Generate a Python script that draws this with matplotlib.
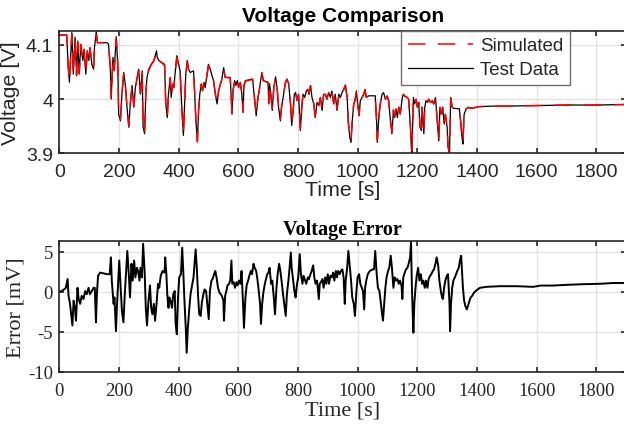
import numpy as np
import matplotlib
matplotlib.use("Agg")
import matplotlib.pyplot as plt

# ---- data ----
# time [s] for the voltage trace
t_v = [0, 25, 30, 34, 42, 47, 53, 58, 62, 67, 72, 79, 83, 89, 94, 99, 103, 109, 115, 118,
       124, 128, 160, 165, 171, 174, 180, 184, 191, 196, 199, 205, 210, 216, 221, 227, 233, 238, 244, 250,
       255, 261, 266, 272, 278, 281, 286, 290, 294, 300, 308, 317, 326, 328, 334, 345, 353, 357, 362, 366,
       372, 375, 380, 384, 389, 394, 400, 405, 411, 416, 420, 424, 429, 433, 439, 450, 454, 458, 463, 467,
       471, 476, 480, 485, 489, 494, 500, 506, 512, 517, 523, 529, 534, 540, 545, 551, 556, 573, 579, 582,
       588, 592, 597, 601, 607, 612, 616, 619, 624, 648, 655, 660, 666, 670, 675, 679, 684, 700, 702, 705,
       710, 714, 719, 725, 730, 735, 741, 745, 752, 758, 763, 769, 775, 779, 784, 788, 792, 797, 802, 808,
       813, 817, 823, 828, 833, 837, 842, 847, 853, 858, 864, 870, 875, 881, 886, 892, 897, 903, 909, 914,
       920, 925, 931, 937, 942, 948, 953, 959, 965, 969, 974, 978, 982, 987, 991, 996, 1000, 1005, 1009, 1015,
       1020, 1025, 1029, 1037, 1059, 1064, 1066, 1071, 1076, 1082, 1087, 1093, 1099, 1104, 1110, 1115, 1120, 1124, 1129, 1133,
       1138, 1143, 1149, 1153, 1158, 1166, 1171, 1177, 1180, 1182, 1187, 1191, 1196, 1200, 1205, 1209, 1214, 1216, 1222, 1225,
       1229, 1234, 1238, 1244, 1250, 1255, 1261, 1266, 1272, 1276, 1281, 1285, 1290, 1294, 1300, 1303, 1308, 1312, 1317, 1322,
       1341, 1346, 1350, 1353, 1357, 1364, 1370, 1384, 1406, 1450, 1500, 1600, 1700, 1800, 1900]

# measured cell voltage [V]
v_test = [4.118, 4.118, 4.058, 4.031, 4.123, 4.046, 4.114, 4.043, 4.107, 4.046, 4.101, 4.071, 4.092, 4.046, 4.089, 4.071, 4.095, 4.064, 4.055, 4.095,
          4.125, 4.104, 4.104, 4.101, 4.058, 4.000, 4.077, 4.052, 4.115, 4.064, 3.972, 3.960, 4.009, 4.049, 4.028, 3.985, 3.948, 3.991, 4.025, 3.985,
          4.021, 4.040, 4.055, 4.009, 4.052, 3.948, 3.936, 4.009, 4.040, 4.055, 4.064, 4.071, 4.089, 4.077, 4.071, 4.067, 4.064, 3.991, 3.966, 4.009,
          4.040, 4.003, 4.028, 4.021, 4.052, 4.080, 4.064, 4.052, 3.979, 3.933, 3.991, 4.046, 4.071, 4.055, 4.049, 4.052, 4.009, 3.960, 3.923, 3.979,
          4.009, 4.028, 4.015, 4.031, 4.021, 4.040, 4.064, 4.055, 4.043, 4.034, 4.009, 3.991, 4.015, 4.028, 4.037, 4.058, 4.040, 4.040, 3.972, 4.015,
          4.034, 4.025, 4.034, 4.021, 4.031, 4.009, 3.975, 4.025, 4.034, 4.037, 3.997, 3.969, 4.003, 4.015, 4.034, 4.049, 4.034, 4.031, 3.991, 4.028,
          4.003, 3.979, 4.021, 4.041, 4.021, 3.985, 3.960, 3.985, 4.009, 4.031, 4.037, 4.028, 3.991, 3.951, 3.979, 4.009, 4.012, 3.997, 4.009, 3.942,
          3.985, 4.009, 4.003, 4.015, 4.018, 4.009, 4.025, 4.003, 3.991, 3.966, 3.994, 3.988, 4.003, 3.979, 4.009, 4.009, 4.000, 4.012, 4.003, 4.015,
          3.991, 4.009, 3.979, 4.009, 4.003, 4.012, 4.018, 4.026, 4.003, 3.954, 3.929, 3.920, 3.960, 3.991, 3.997, 4.015, 3.991, 3.969, 3.997, 4.003,
          4.009, 4.018, 4.003, 4.006, 4.006, 3.954, 3.920, 3.966, 3.991, 4.009, 4.012, 4.000, 4.006, 3.997, 3.960, 3.936, 3.979, 3.966, 3.982, 3.966,
          3.985, 3.972, 4.000, 4.009, 4.006, 4.003, 4.000, 3.948, 3.911, 3.899, 4.003, 3.991, 4.000, 3.985, 3.994, 3.948, 3.942, 3.985, 3.936, 3.985,
          3.997, 3.994, 4.000, 3.994, 3.997, 3.991, 4.003, 3.966, 3.923, 3.985, 3.972, 3.985, 3.954, 3.972, 3.948, 3.911, 3.899, 4.003, 3.985, 3.983,
          3.982, 3.954, 3.929, 3.917, 3.972, 3.982, 3.985, 3.983, 3.986, 3.987, 3.987, 3.988, 3.989, 3.989, 3.990]

# model output [V]
v_sim = [4.118, 4.118, 4.060, 4.033, 4.120, 4.047, 4.112, 4.045, 4.105, 4.048, 4.100, 4.072, 4.091, 4.048, 4.088, 4.072, 4.094, 4.065, 4.057, 4.094,
         4.119, 4.104, 4.104, 4.100, 4.060, 4.004, 4.076, 4.054, 4.112, 4.065, 3.974, 3.963, 4.009, 4.047, 4.029, 3.987, 3.951, 3.991, 4.023, 3.987,
         4.020, 4.039, 4.053, 4.011, 4.050, 3.951, 3.940, 4.009, 4.039, 4.053, 4.063, 4.070, 4.086, 4.077, 4.071, 4.066, 4.062, 3.993, 3.969, 4.009,
         4.039, 4.005, 4.027, 4.022, 4.050, 4.077, 4.063, 4.051, 3.982, 3.938, 3.992, 4.044, 4.069, 4.055, 4.049, 4.051, 4.010, 3.961, 3.921, 3.981,
         4.010, 4.027, 4.016, 4.030, 4.022, 4.039, 4.062, 4.054, 4.043, 4.035, 4.010, 3.993, 4.015, 4.027, 4.036, 4.056, 4.040, 4.039, 3.975, 4.014,
         4.033, 4.025, 4.033, 4.022, 4.030, 4.010, 3.978, 4.024, 4.033, 4.036, 3.998, 3.972, 4.003, 4.015, 4.033, 4.047, 4.034, 4.030, 3.993, 4.027,
         4.004, 3.981, 4.020, 4.039, 4.021, 3.987, 3.963, 3.986, 4.009, 4.030, 4.036, 4.028, 3.993, 3.955, 3.980, 4.008, 4.011, 3.998, 4.008, 3.946,
         3.986, 4.008, 4.003, 4.014, 4.017, 4.009, 4.024, 4.004, 3.992, 3.969, 3.994, 3.989, 4.002, 3.981, 4.008, 4.008, 4.000, 4.011, 4.003, 4.014,
         3.992, 4.008, 3.981, 4.008, 4.003, 4.011, 4.017, 4.024, 4.004, 3.957, 3.933, 3.925, 3.962, 3.991, 3.997, 4.014, 3.992, 3.971, 3.997, 4.003,
         4.008, 4.017, 4.004, 4.005, 4.005, 3.957, 3.925, 3.968, 3.991, 4.008, 4.011, 4.000, 4.005, 3.998, 3.962, 3.940, 3.980, 3.968, 3.982, 3.968,
         3.985, 3.973, 4.000, 4.008, 4.005, 4.003, 4.000, 3.952, 3.915, 3.905, 4.001, 3.991, 3.999, 3.986, 3.994, 3.951, 3.946, 3.985, 3.940, 3.985,
         3.997, 3.994, 3.999, 3.994, 3.996, 3.991, 4.002, 3.968, 3.927, 3.984, 3.973, 3.985, 3.956, 3.972, 3.951, 3.915, 3.905, 4.001, 3.985, 3.983,
         3.982, 3.957, 3.933, 3.922, 3.972, 3.982, 3.984, 3.983, 3.986, 3.987, 3.987, 3.988, 3.989, 3.989, 3.990]

# time [s] for the error trace
t_e = [0, 8, 16, 22, 28, 31, 36, 40, 44, 48, 53, 56, 61, 65, 70, 75, 81, 87, 92, 98,
       103, 109, 115, 119, 123, 126, 130, 137, 148, 160, 169, 173, 176, 182, 185, 190, 193, 198, 201, 206,
       210, 215, 219, 224, 228, 233, 237, 242, 246, 251, 255, 260, 264, 269, 272, 277, 281, 286, 290, 294,
       299, 304, 308, 312, 317, 321, 326, 331, 335, 340, 346, 353, 355, 359, 362, 366, 369, 373, 378, 382,
       387, 390, 394, 398, 402, 408, 412, 416, 420, 424, 427, 431, 436, 440, 445, 450, 454, 457, 461, 465,
       469, 474, 478, 483, 487, 492, 496, 501, 505, 510, 514, 519, 523, 528, 532, 537, 541, 545, 550, 552,
       556, 560, 564, 569, 573, 577, 580, 585, 589, 594, 598, 602, 607, 611, 616, 619, 624, 628, 633, 637,
       642, 646, 651, 655, 660, 664, 668, 673, 676, 680, 684, 689, 693, 697, 701, 705, 710, 714, 719, 723,
       728, 732, 737, 741, 745, 750, 754, 759, 763, 768, 772, 776, 779, 784, 788, 792, 797, 801, 806, 810,
       815, 819, 824, 828, 833, 837, 842, 846, 851, 855, 859, 864, 870, 873, 877, 882, 886, 891, 895, 900,
       904, 909, 913, 918, 922, 927, 931, 935, 940, 944, 949, 953, 957, 960, 965, 969, 974, 978, 982, 987,
       991, 996, 1000, 1005, 1009, 1014, 1018, 1022, 1025, 1029, 1034, 1041, 1050, 1055, 1059, 1064, 1068, 1073, 1077, 1082,
       1085, 1089, 1093, 1097, 1102, 1106, 1111, 1115, 1120, 1124, 1129, 1133, 1138, 1142, 1147, 1150, 1153, 1158, 1162, 1167,
       1171, 1176, 1179, 1182, 1185, 1187, 1190, 1194, 1198, 1203, 1207, 1212, 1216, 1220, 1225, 1229, 1234, 1238, 1243, 1247,
       1252, 1256, 1261, 1265, 1270, 1274, 1279, 1283, 1286, 1290, 1294, 1299, 1303, 1308, 1310, 1313, 1317, 1321, 1326, 1330,
       1334, 1339, 1343, 1347, 1350, 1353, 1357, 1361, 1366, 1370, 1375, 1379, 1384, 1390, 1399, 1410, 1432, 1477, 1533, 1589,
       1613, 1655, 1700, 1756, 1812, 1857, 1900]

# voltage error [mV]
err_mv = [0.0, 0.1, 0.3, 0.5, 1.6, -0.5, -1.5, -2.8, -4.2, -1.1, -2.2, -3.6, 0.5, -0.9, -1.5, -0.5, -0.9, 0.1, -0.3, 0.5,
          -0.3, 0.1, 0.5, 0.5, -3.8, -0.3, 2.0, 2.4, 2.3, 2.2, 2.2, 4.3, 1.4, -1.5, -0.7, -4.9, -2.0, 1.8, 3.9, 0.5,
          -2.4, -3.8, -0.7, 2.6, 5.1, 2.2, -0.7, 3.5, 1.4, 3.9, 1.8, 3.0, 2.6, 1.4, 3.0, 1.8, 6.0, 2.6, -2.0, -4.2,
          -1.1, 0.8, -2.0, -2.8, -1.5, -3.6, -1.5, 1.0, 0.5, 2.0, 2.6, 2.4, 4.3, 2.2, -0.3, -2.0, -0.7, -1.1, -2.0, -0.3,
          0.1, -4.0, -5.3, -0.7, 1.8, 2.2, 5.5, 2.2, -1.5, -4.5, -7.6, -4.5, -2.0, -0.3, 0.8, 1.8, 3.9, 5.3, 3.0, -0.3,
          -2.8, -3.0, -1.3, -0.3, 0.3, 0.1, -1.5, -3.4, 0.1, 1.4, 1.6, 2.2, 2.6, 1.6, 0.5, -0.1, -0.3, -0.5, -1.1, -3.6,
          -0.5, 0.1, 0.8, 1.0, 1.4, 3.9, 1.0, 1.2, 0.5, 1.2, 0.8, 1.4, 1.0, 2.6, -1.5, -4.5, -0.7, 0.8, 1.4, 2.0,
          2.6, 2.2, 3.5, 3.0, 2.6, 1.6, 0.3, -1.5, -4.0, -1.5, -0.1, 1.0, 1.6, 2.2, 2.4, 3.0, 1.0, 1.4, -0.7, -2.8,
          0.5, 2.2, 3.5, 2.6, 1.4, -0.3, -1.5, -3.0, -0.3, 1.4, 3.0, 4.9, 3.0, 1.4, 0.1, -0.7, 1.0, 1.8, 4.7, 2.2,
          1.0, 2.0, 1.4, 1.0, 1.8, 1.6, 2.2, 2.6, 3.3, 1.8, 1.0, 1.4, -0.9, 1.0, 1.2, 1.6, 0.5, 1.8, 1.0, 2.2,
          1.0, 2.0, 1.8, 2.4, 1.4, 2.6, 1.8, 2.6, 2.2, 2.6, 2.8, 1.8, -1.5, 1.4, 3.0, 5.1, 3.0, 1.4, -0.7, -1.5,
          -3.0, 0.1, 1.8, 2.2, 1.0, 0.5, 0.1, -2.2, 0.5, 1.4, 2.2, 2.6, 2.8, 2.8, 5.1, 2.2, 0.5, 0.1, -1.1, -2.8,
          -3.6, -1.5, 0.5, 1.8, 2.6, 3.0, 4.5, 3.0, 0.5, 1.8, 1.4, 1.6, 1.0, 1.4, 0.8, -0.9, 1.8, 2.4, 2.8, 3.0,
          3.5, 4.3, 6.2, 0.5, -3.2, -5.1, -1.5, 0.5, 2.0, 3.0, 1.4, 2.2, 1.0, 1.4, 0.5, 1.4, 0.5, 1.6, 2.0, 2.2,
          2.6, 2.8, 3.5, 4.3, 3.3, 1.4, 0.1, -0.7, -0.9, 0.5, 1.4, 2.0, 2.2, -1.5, -4.9, -1.5, 0.5, 1.4, 1.8, 2.2,
          2.6, 3.0, 3.9, 4.5, 2.6, 0.5, -1.1, -1.75, -2.2, -1.75, -1.1, -0.7, -0.5, -0.1, 0.2, 0.5, 0.62, 0.7, 0.7, 0.62,
          0.78, 0.78, 0.87, 0.95, 1.0, 1.1, 1.1]

x_ticks = [0, 200, 400, 600, 800, 1000, 1200, 1400, 1600, 1800]
v_ticks = [3.9, 4.0, 4.1]
v_ticklabels = ['3.9', '4', '4.1']
e_ticks = [-10, -5, 0, 5]

plt.rcParams['axes.unicode_minus'] = False
ink = '#262626'

fig = plt.figure(figsize=(6.24, 4.31), dpi=100)
fig.patch.set_facecolor('white')


def matlab_axes(ax, family, tick_size):
    for s in ax.spines.values():
        s.set_linewidth(1.2)
        s.set_color(ink)
    ax.tick_params(direction='in', top=True, right=True, length=3.6, width=1.2,
                   color=ink, labelcolor=ink, labelsize=tick_size)
    ax.tick_params(axis='x', pad=7)
    ax.tick_params(axis='y', pad=4.5)
    ax.grid(True, color='#e3e3e3', linewidth=1.0)
    ax.set_axisbelow(True)
    for lab in ax.get_xticklabels() + ax.get_yticklabels():
        lab.set_family(family)


# ---- top: voltage comparison ----
ax1 = fig.add_axes([0.095, 0.642, 0.9084, 0.2844])
ax1.plot(t_v, v_test, color='black', linewidth=0.9, label='Test Data', zorder=2)
ax1.plot(t_v, v_sim, color='red', linewidth=1.1, linestyle=(0, (11.5, 8)),
         label='Simulated', zorder=3)
ax1.set_xlim(0, 1900)
ax1.set_ylim(3.9, 4.126)
ax1.set_xticks(x_ticks)
ax1.set_yticks(v_ticks)
ax1.set_yticklabels(v_ticklabels)
matlab_axes(ax1, 'Liberation Sans', 14)
ax1.set_xlabel('Time [s]', family='Liberation Sans', fontsize=15.4, color=ink, labelpad=0)
ax1.set_ylabel('Voltage [V]', family='Liberation Sans', fontsize=15.4, color=ink, labelpad=4)
ax1.set_title('Voltage Comparison', family='Liberation Sans', fontsize=15,
              fontweight='bold', pad=7)

h, l = ax1.get_legend_handles_labels()
leg = ax1.legend(h[::-1], l[::-1], loc='upper left', bbox_to_anchor=(0.603, 1.0),
                 borderaxespad=0, fancybox=False, framealpha=1, edgecolor='#6e6e6e',
                 prop={'family': 'Liberation Sans', 'size': 13.5},
                 handlelength=3.5, handletextpad=0.35, labelspacing=0.35, borderpad=0.35)
leg.get_frame().set_linewidth(1.0)
for txt in leg.get_texts():
    txt.set_color(ink)

# ---- bottom: voltage error ----
ax2 = fig.add_axes([0.095, 0.1346, 0.9084, 0.3032])
ax2.plot(t_e, err_mv, color='black', linewidth=1.4)
ax2.set_xlim(0, 1900)
ax2.set_ylim(-10, 6.3)
ax2.set_xticks(x_ticks)
ax2.set_yticks(e_ticks)
matlab_axes(ax2, 'Liberation Serif', 13.5)
ax2.set_xlabel('Time [s]', family='Liberation Serif', fontsize=16, color=ink, labelpad=1)
ax2.set_ylabel('Error [mV]', family='Liberation Serif', fontsize=16, color=ink, labelpad=2)
ax2.set_title('Voltage Error', family='Liberation Serif', fontsize=14.5,
              fontweight='bold', pad=5)

fig.savefig('out.png', dpi=100)
